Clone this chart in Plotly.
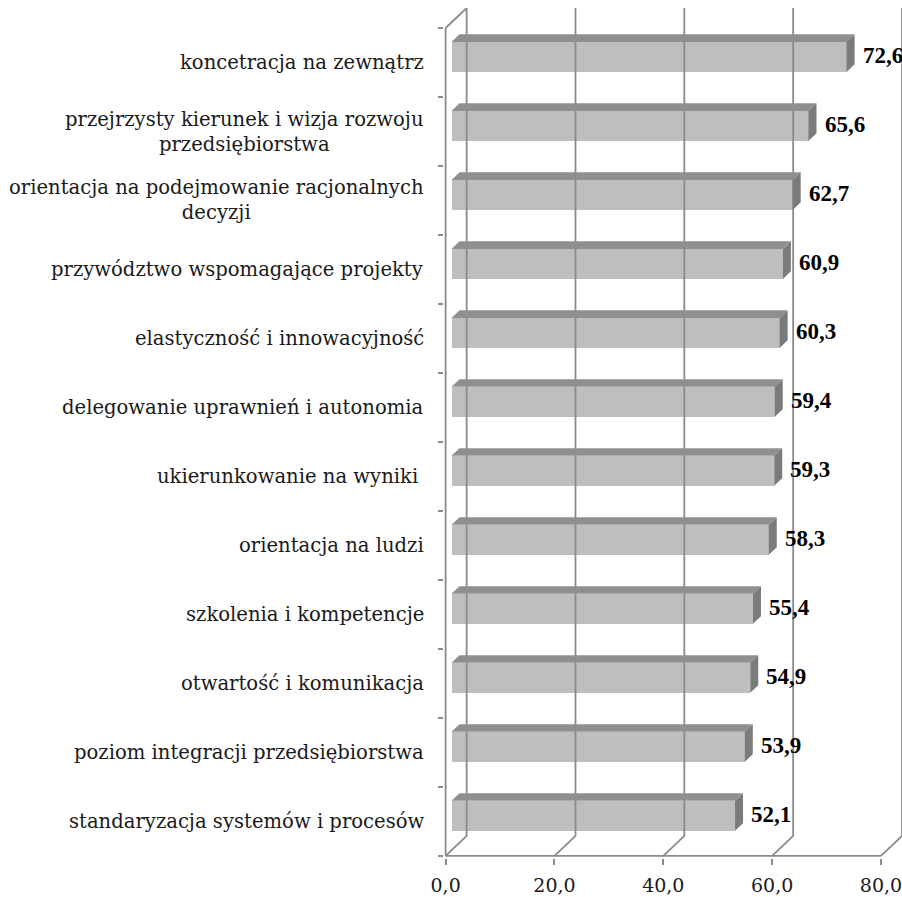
import plotly.graph_objects as go

# Categories listed bottom to top, with their scores
categories = [
    "standaryzacja systemów i procesów",
    "poziom integracji przedsiębiorstwa",
    "otwartość i komunikacja",
    "szkolenia i kompetencje",
    "orientacja na ludzi",
    "ukierunkowanie na wyniki ",
    "delegowanie uprawnień i autonomia",
    "elastyczność i innowacyjność",
    "przywództwo wspomagające projekty",
    "orientacja na podejmowanie racjonalnych<br>decyzji",
    "przejrzysty kierunek i wizja rozwoju<br>przedsiębiorstwa",
    "koncetracja na zewnątrz",
]
values = [52.1, 53.9, 54.9, 55.4, 58.3, 59.3, 59.4, 60.3, 60.9, 62.7, 65.6, 72.6]
tick_values = [0, 20, 40, 60, 80]
tick_labels = ["0,0", "20,0", "40,0", "60,0", "80,0"]

W, H = 902, 897
X_PX = 5.4375          # pixels per value unit on the front plane
SLOT_PX = 69.0         # pixels per category slot
n = len(categories)

# oblique depth of the 3D box (in axis units)
DX = 21 / X_PX
DY = 20 / SLOT_PX
F1, F2 = 0.28, 0.66    # depth of bar front / back face
BAR_H = 30 / SLOT_PX

x0, x1 = -0.3, (902 - 446) / X_PX
y0, y1 = -0.03, n + 0.29
left = 446 + x0 * X_PX
bottom = H - 856 + y0 * SLOT_PX
top = 8

GRID = "#8A8A8A"
FRONT, TOPC, SIDE = "#BEBEBE", "#8F8F8F", "#7B7B7B"
TEXT = "#1a1a1a"

fig = go.Figure()

def seg(xs, ys):
    fig.add_trace(go.Scatter(x=xs, y=ys, mode="lines", line=dict(color=GRID, width=1.8),
                             hoverinfo="skip", showlegend=False))

# back wall gridlines and floor diagonals
for t in tick_values:
    seg([t + DX, t + DX], [DY, n + DY])
    seg([t, t + DX], [0, DY])
# front axis lines and top-left diagonal
seg([0, 0], [0, n])
seg([0, DX], [n, n + DY])
seg([0, tick_values[-1]], [0, 0])

centers = [i + 0.5 for i in range(n)]

# bar front faces
fig.add_trace(go.Bar(
    orientation="h", x=values, y=[c + F1 * DY for c in centers],
    base=F1 * DX, width=BAR_H, marker=dict(color=FRONT, line=dict(width=0)),
    hoverinfo="skip", showlegend=False,
))

# top and side faces of each bar, plus value labels
for c, v in zip(centers, values):
    b1 = c + F1 * DY - BAR_H / 2
    t1 = c + F1 * DY + BAR_H / 2
    sh = (F2 - F1) * DY
    xa, xb = F1 * DX, F2 * DX
    fig.add_trace(go.Scatter(
        x=[xa, v + xa, v + xb, xb, xa], y=[t1, t1, t1 + sh, t1 + sh, t1],
        fill="toself", fillcolor=TOPC, mode="lines", line=dict(width=0),
        hoverinfo="skip", showlegend=False))
    fig.add_trace(go.Scatter(
        x=[v + xa, v + xa, v + xb, v + xb, v + xa], y=[b1, t1, t1 + sh, b1 + sh, b1],
        fill="toself", fillcolor=SIDE, mode="lines", line=dict(width=0),
        hoverinfo="skip", showlegend=False))
    fig.add_annotation(
        x=v + xb + 6 / X_PX, y=c + F1 * DY + 0.02, xref="x", yref="y",
        text="<b>" + f"{v:.1f}".replace(".", ",") + "</b>", showarrow=False,
        xanchor="left", yanchor="middle",
        font=dict(family="Liberation Serif", size=23, color="#000000"))

# category labels
plot_w = W - left
for c, lab in zip(centers, categories):
    fig.add_annotation(
        x=(426 - left) / plot_w, y=c, xref="paper", yref="y", text=lab,
        showarrow=False, xanchor="right", yanchor="middle", align="center",
        font=dict(family="DejaVu Serif", size=19.6, color=TEXT))

fig.update_layout(
    width=W, height=H,
    margin=dict(l=left, r=0, t=top, b=bottom),
    paper_bgcolor="white", plot_bgcolor="white",
    xaxis=dict(range=[x0, x1], showgrid=False, zeroline=False, showline=False,
               tickvals=tick_values, ticktext=tick_labels, ticks="outside",
               ticklen=6, tickwidth=1.8, tickcolor=GRID, ticklabelstandoff=4,
               ticklabeloverflow="allow",
               tickfont=dict(family="DejaVu Serif", size=19, color=TEXT)),
    yaxis=dict(range=[y0, y1], showgrid=False, zeroline=False, showline=False,
               tickvals=list(range(n + 1)), ticktext=[""] * (n + 1), ticks="outside",
               ticklen=5, tickwidth=1.8, tickcolor=GRID),
    bargap=0,
)

fig.write_html("out.html")
